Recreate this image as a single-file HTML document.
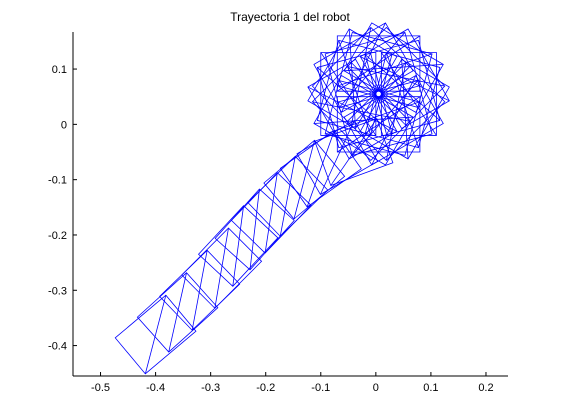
<!DOCTYPE html>
<html><head><meta charset="utf-8">
<style>
body{margin:0;background:#fff;}
svg{display:block;font-family:"Liberation Sans",sans-serif;}
</style></head>
<body>
<svg id="chart" width="561" height="420">
<text x="290" y="21" font-size="12" text-anchor="middle">Trayectoria 1 del robot</text>
<g id="marks"></g>
<g id="axes"></g>
</svg>
<script>
const poseX=[-0.40,-0.36,-0.32,-0.28,-0.25,-0.22,-0.19,-0.16,-0.13,-0.10,-0.07,-0.04,
0.005,0.0325,0.0526,0.06,0.0526,0.0325,0.005,-0.0225,-0.0426,-0.05,-0.0426,-0.0225,
0.0167,0.0368,0.0485,0.0485,0.0368,0.0167,-0.0067,-0.0268,-0.0385,-0.0385,-0.0268,-0.0067];
const poseY=[-0.38,-0.34,-0.30,-0.26,-0.22,-0.19,-0.16,-0.13,-0.10,-0.08,-0.06,-0.05,
0.0,0.0074,0.0275,0.055,0.0825,0.1026,0.11,0.1026,0.0825,0.055,0.0275,0.0074,
0.0115,0.0232,0.0434,0.0666,0.0868,0.0985,0.0985,0.0868,0.0666,0.0434,0.0232,0.0115];
const poseDeg=[40,42,44,45,47,48,46,44,40,35,30,20,
0,30,60,90,120,150,180,210,240,270,300,330,
15,45,75,105,135,165,195,225,255,285,315,345];
const xTicks=[-0.5,-0.4,-0.3,-0.2,-0.1,0,0.1,0.2];
const xTickLabels=["-0.5","-0.4","-0.3","-0.2","-0.1","0","0.1","0.2"];
const yTicks=[0.1,0,-0.1,-0.2,-0.3,-0.4];
const yTickLabels=["0.1","0","-0.1","-0.2","-0.3","-0.4"];
const L=73,R=508,T=32,B=376,X0=-0.55,X1=0.24,Y0=-0.455,Y1=0.167;
function sx(v){return L+(v-X0)/(X1-X0)*(R-L);}
function sy(v){return B-(v-Y0)/(Y1-Y0)*(B-T);}
const NS="http://www.w3.org/2000/svg";
const marks=document.getElementById('marks');
for(let i=0;i<poseX.length;i++){
  const len=i<12?0.12:0.15, wid=i<12?0.085:0.1;
  const a=poseDeg[i]*Math.PI/180,c=Math.cos(a),s=Math.sin(a);
  const loc=[[-len/2,-wid/2],[len/2,-wid/2],[len/2,wid/2],[-len/2,wid/2]];
  const pts=loc.map(p=>[sx(poseX[i]+p[0]*c-p[1]*s),sy(poseY[i]+p[0]*s+p[1]*c)]);
  const pg=document.createElementNS(NS,'polygon');
  pg.setAttribute('points',pts.map(p=>p.join(',')).join(' '));
  pg.setAttribute('fill','none');pg.setAttribute('stroke','#0000ff');pg.setAttribute('stroke-width','0.8');
  
  
  marks.appendChild(pg);
  const ln=document.createElementNS(NS,'line');
  ln.setAttribute('x1',pts[0][0]);ln.setAttribute('y1',pts[0][1]);
  ln.setAttribute('x2',pts[2][0]);ln.setAttribute('y2',pts[2][1]);
  ln.setAttribute('stroke','#0000ff');ln.setAttribute('stroke-width','0.8');
  
  
  marks.appendChild(ln);
}
const axes=document.getElementById('axes');
let h=`<line x1="${L}" y1="${B}" x2="${R}" y2="${B}" stroke="#000"/><line x1="${L}" y1="${T}" x2="${L}" y2="${B}" stroke="#000"/>`;
xTicks.forEach((v,i)=>{const x=sx(v);h+=`<line x1="${x}" y1="${B}" x2="${x}" y2="${B-4}" stroke="#000"/><text x="${x}" y="${B+15}" font-size="11" text-anchor="middle">${xTickLabels[i]}</text>`;});
yTicks.forEach((v,i)=>{const y=sy(v);h+=`<line x1="${L}" y1="${y}" x2="${L+4}" y2="${y}" stroke="#000"/><text x="${L-6}" y="${y+4}" font-size="11" text-anchor="end">${yTickLabels[i]}</text>`;});
axes.innerHTML=h;
</script>
</body></html>
